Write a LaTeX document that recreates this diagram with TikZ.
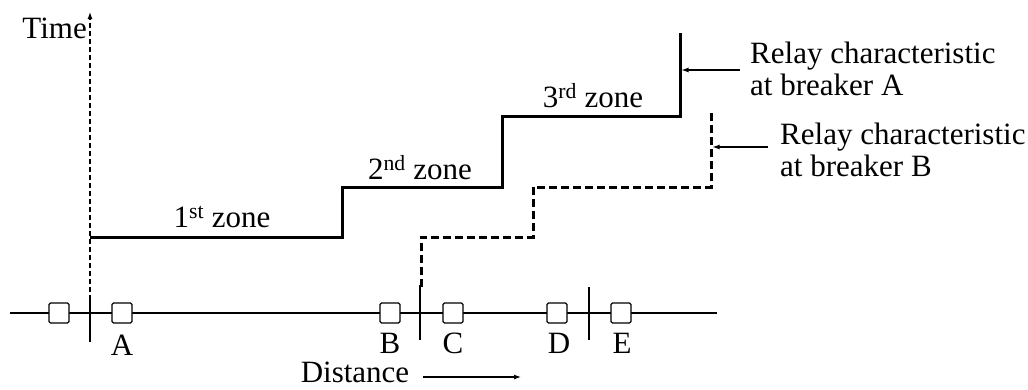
\documentclass[tikz,border=0pt]{standalone}
\usepackage{fontspec}
\setmainfont{Liberation Serif}
\usetikzlibrary{arrows.meta}
\begin{document}
\begin{tikzpicture}[x=1pt,y=-1pt,
  txt/.style={font=\fontsize{31}{32}\selectfont, inner sep=0pt, align=left},
  brk/.style={draw, fill=white, minimum size=20pt, inner sep=0pt, line width=1.3pt, rounded corners=1.5pt},
  thinline/.style={line width=1.2pt},
  relA/.style={line width=3pt},
  relB/.style={line width=3pt, dash pattern=on 8pt off 4pt},
  arr/.style={thinline, -{Latex[length=7pt,width=5pt]}}]
\useasboundingbox (0,0) rectangle (1028,389);
% bus
\coordinate (busL) at (10,313);
\coordinate (busR) at (717,313);
\draw[thinline] (busL) -- (busR);
% time axis
\coordinate (o) at (90,300);
\coordinate (top) at (90,12);
\draw[thinline, dash pattern=on 5pt off 3pt, -{Latex[length=7pt,width=5pt]}] (o) -- (top);
\node[txt, anchor=east] (time) at (87,28) {Time};
% tick marks
\coordinate (t1a) at (90,295); \coordinate (t1b) at (90,342);
\coordinate (t2a) at (420,285); \coordinate (t2b) at (420,340);
\coordinate (t3a) at (589,287); \coordinate (t3b) at (589,340);
\draw[thinline] (t1a) -- (t1b);
\draw[thinline] (t2a) -- (t2b);
\draw[thinline] (t3a) -- (t3b);
% breakers
\node[brk] (b0) at (59,313) {};
\node[brk] (bA) at (122,313) {};
\node[brk] (bB) at (390,313) {};
\node[brk] (bC) at (453,313) {};
\node[brk] (bD) at (557,313) {};
\node[brk] (bE) at (621,313) {};
\node[txt, anchor=north] (lA) at (122,335) {A};
\node[txt, anchor=north] (lB) at (390,333) {B};
\node[txt, anchor=north] (lC) at (453,333) {C};
\node[txt, anchor=north] (lD) at (559,333) {D};
\node[txt, anchor=north] (lE) at (622,333) {E};
% distance
\node[txt] (dist) at (355,372) {Distance};
\coordinate (d1) at (423,377);
\coordinate (d2) at (521,377);
\draw[arr] (d1) -- (d2);
% relay A characteristic
\coordinate (a0) at (90,237);
\coordinate (a1) at (342,187);
\coordinate (a2) at (502,116);
\coordinate (a3) at (680,33);
\draw[relA] (a0) -| (a1) -| (a2) -| (a3);
% relay B characteristic
\coordinate (c0) at (421,287);
\coordinate (c1) at (533,237);
\coordinate (c2) at (711,187);
\coordinate (c3) at (711,113);
\draw[relB] (c0) |- (c1) |- (c2) -- (c3);
% zone labels
\node[txt] (z1) at (222,217) {1\textsuperscript{st} zone};
\node[txt] (z2) at (420,168) {2\textsuperscript{nd} zone};
\node[txt] (z3) at (593,96) {3\textsuperscript{rd} zone};
% relay labels
\node[txt, anchor=west] (rA) at (750,69) {Relay characteristic\\at breaker A};
\node[txt, anchor=west] (rB) at (780,150) {Relay characteristic\\at breaker B};
\coordinate (qA) at (740,70);
\coordinate (pA) at (681.5,70);
\coordinate (qB) at (768,147);
\coordinate (pB) at (712.5,147);
\draw[arr] (qA) -- (pA);
\draw[arr] (qB) -- (pB);
\end{tikzpicture}
\end{document}
